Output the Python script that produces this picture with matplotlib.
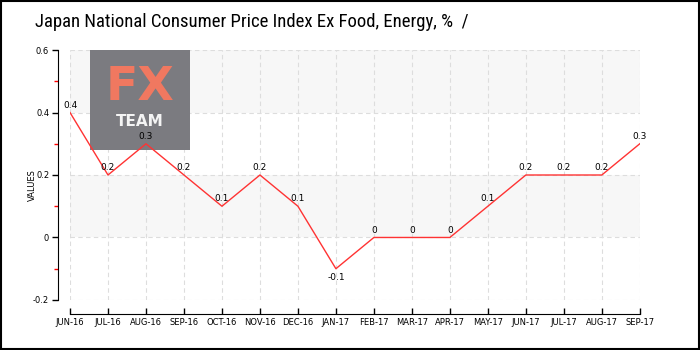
import matplotlib
matplotlib.use("Agg")
import matplotlib.pyplot as plt
from matplotlib import font_manager
from matplotlib.patches import Rectangle

months = ["JUN-16", "JUL-16", "AUG-16", "SEP-16", "OCT-16", "NOV-16", "DEC-16",
          "JAN-17", "FEB-17", "MAR-17", "APR-17", "MAY-17", "JUN-17", "JUL-17",
          "AUG-17", "SEP-17"]
values = [0.4, 0.2, 0.3, 0.2, 0.1, 0.2, 0.1, -0.1, 0, 0, 0, 0.1, 0.2, 0.2, 0.2, 0.3]
y_ticks = [-0.2, 0, 0.2, 0.4, 0.6]
y_tick_labels = ["-0.2", "0", "0.2", "0.4", "0.6"]
title = "Japan National Consumer Price Index Ex Food, Energy, %  /"

# pick a narrow font for the title if one is around
installed = {f.name for f in font_manager.fontManager.ttflist}
narrow = "DejaVu Sans"
for cand in ["Liberation Sans Narrow", "DejaVu Sans Condensed", "Roboto Condensed", "Open Sans Condensed"]:
    if cand in installed:
        narrow = cand
        break

fig = plt.figure(figsize=(7, 3.5), dpi=100)
fig.patch.set_facecolor("white")
fig.patches.append(Rectangle((0.002, 0.003), 0.996, 0.994, transform=fig.transFigure,
                             fill=False, edgecolor="black", linewidth=1.5))

ax = fig.add_axes([0.1, 0.143, 0.814, 0.714])
x = list(range(len(months)))

# alternating bands
for lo, hi in [(0.4, 0.6), (0.0, 0.2)]:
    ax.axhspan(lo, hi, color="#f7f7f7", zorder=0, lw=0)

# logo sits between the grid and the line
ax.add_patch(Rectangle((90 / 700, 1 - 150 / 350), 100 / 700, 100 / 350, transform=fig.transFigure,
                       facecolor="#7b7b80", edgecolor="none", zorder=2))
fig_x = 140 / 700
ax.text(fig_x, 1 - 88 / 350, "FX", color="#f07860", fontsize=34, fontweight="bold",
        ha="center", va="center", transform=fig.transFigure, zorder=2.5)
ax.text(fig_x, 1 - 122 / 350, "TEAM", color="#f4f4f4", fontsize=11, fontweight="bold",
        ha="center", va="center", transform=fig.transFigure, zorder=2.5)

ax.plot(x, values, color="#ff3333", lw=1, zorder=3)
for xi, v in zip(x, values):
    lbl = "0" if v == 0 else f"{v:g}"
    ax.annotate(lbl, (xi, v), xytext=(0, 2 if v >= 0 else -3), textcoords="offset points",
                ha="center", va="bottom" if v >= 0 else "top", fontsize=6.5, zorder=4)

ax.set_xlim(0, len(months) - 1)
ax.set_ylim(-0.2, 0.6)
ax.set_xticks(x)
ax.set_xticklabels(months)
ax.set_yticks(y_ticks)
ax.set_yticklabels(y_tick_labels)
ax.set_yticks([-0.1, 0.1, 0.3, 0.5], minor=True)
ax.tick_params(axis="y", which="minor", length=3, color="red", width=1)
ax.tick_params(axis="y", which="major", length=4, width=1, pad=2, labelsize=6)
ax.tick_params(axis="x", which="major", length=4, width=1, pad=3, labelsize=6, direction="in")
ax.grid(True, which="major", color="#dddddd", linestyle=(0, (4, 3)), lw=0.8, zorder=1)
ax.set_axisbelow(True)

for s in ["top", "right"]:
    ax.spines[s].set_visible(False)
ax.spines["left"].set_position(("outward", 9))
ax.spines["bottom"].set_position(("outward", 10))
ax.set_ylabel("VALUES", fontsize=6)
ax.yaxis.set_label_coords(-0.058, 0.46)

fig.text(35 / 700, 1 - 22 / 350, title, fontsize=13.5, ha="left", va="center",
         family=narrow, fontstretch="condensed")

fig.savefig("out.png", dpi=100)
